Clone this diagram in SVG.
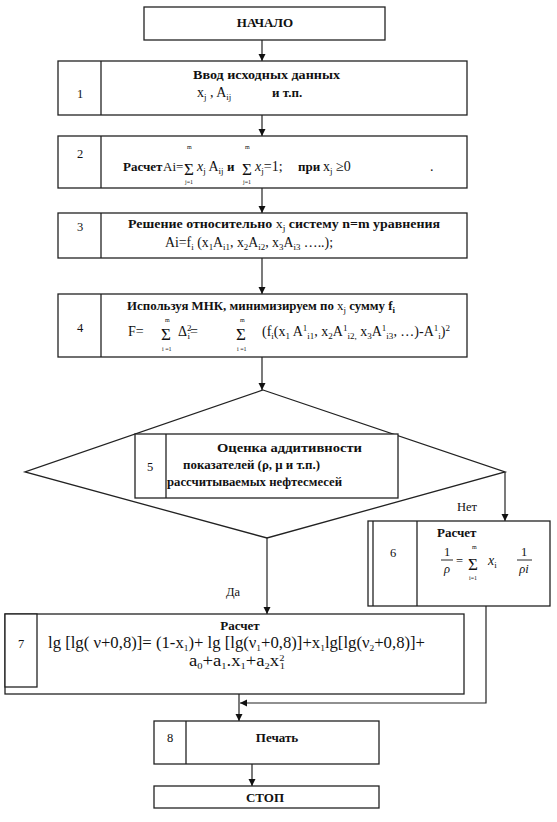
<svg xmlns="http://www.w3.org/2000/svg" width="557" height="822" viewBox="0 0 557 822" font-family="'Liberation Serif', 'DejaVu Serif', serif">
<defs>
<marker id="ah" markerWidth="8" markerHeight="8" refX="7" refY="3.5" orient="auto" markerUnits="userSpaceOnUse">
<path d="M0,0 L7,3.5 L0,7 z" fill="#111"/>
</marker>
<style>
.box{fill:#fff;stroke:#222;stroke-width:1.3}
.ln{fill:none;stroke:#222;stroke-width:1.3}
.c{fill:none;stroke:#222;stroke-width:1.2;marker-end:url(#ah)}
text{font-family:'Liberation Serif','DejaVu Serif',serif;fill:#111}
.b{font-weight:bold;font-size:13px}
.r{font-size:14px}
.n{font-size:12.5px}
.sb{font-size:9px;baseline-shift:-3px}
.sp{font-size:9px;baseline-shift:5px}
.sg{font-size:17px}
.lim{font-size:6px}
.mid{text-anchor:middle}
.it{font-style:italic}
</style>
</defs>
<rect width="557" height="822" fill="#fff"/>

<g id="connectors">
<line class="c" x1="262" y1="40" x2="262" y2="61"/>
<line class="c" x1="262" y1="115" x2="262" y2="136"/>
<line class="c" x1="262" y1="188" x2="262" y2="213"/>
<line class="c" x1="262" y1="258" x2="262" y2="294"/>
<line class="c" x1="262" y1="357" x2="262" y2="390"/>
<polyline class="c" points="505,472 505,521"/>
<line class="c" x1="267" y1="538" x2="267" y2="614"/>
<polyline class="c" points="486,606 486,703 240,703"/>
<line class="c" x1="239" y1="694" x2="239" y2="721"/>
<line class="c" x1="252" y1="764" x2="252" y2="786"/>
<text x="467" y="511" class="n mid">Нет</text>
<text x="233" y="596" class="n mid">Да</text>
</g>

<g id="start">
<rect class="box" x="144" y="7" width="241" height="33"/>
<text x="265" y="27" class="b mid">НАЧАЛО</text>
</g>

<g id="node1">
<rect class="box" x="58" y="61" width="409" height="54"/>
<line class="ln" x1="101" y1="61" x2="101" y2="115"/>
<text x="80" y="98" class="n mid">1</text>
<text x="193" y="79" class="b" textLength="147" lengthAdjust="spacingAndGlyphs">Ввод исходных данных</text>
<text x="197" y="97" class="r">x<tspan class="sb">j</tspan> , A<tspan class="sb">ij</tspan></text>
<text x="272" y="97" class="b">и  т.п.</text>
</g>

<g id="node2">
<rect class="box" x="58" y="136" width="409" height="52"/>
<line class="ln" x1="101" y1="136" x2="101" y2="188"/>
<text x="80" y="158" class="n mid">2</text>
<text x="123" y="171" class="b" font-size="12.5px">Расчет</text>
<text x="163" y="171" font-size="13px">Ai=</text>
<text x="184" y="175" class="sg">Σ</text>
<text x="187" y="149" class="lim">m</text>
<text x="185" y="184" class="lim">j=1</text>
<text x="197" y="171" class="r"><tspan class="it">x</tspan><tspan class="sb">j</tspan> A<tspan class="sb">ij</tspan></text>
<text x="227" y="171" class="b">и</text>
<text x="242" y="175" class="sg">Σ</text>
<text x="245" y="149" class="lim">m</text>
<text x="243" y="184" class="lim">j=1</text>
<text x="255" y="171" class="r"><tspan class="it">x</tspan><tspan class="sb">j</tspan>=1;</text>
<text x="298" y="171" class="b">при</text>
<text x="323" y="171" class="r">x<tspan class="sb">j</tspan> ≥0</text>
<text x="430" y="171" class="r">.</text>
</g>

<g id="node3">
<rect class="box" x="58" y="213" width="409" height="45"/>
<line class="ln" x1="101" y1="213" x2="101" y2="258"/>
<text x="80" y="231" class="n mid">3</text>
<text x="128" y="228" class="b" textLength="312" lengthAdjust="spacingAndGlyphs">Решение относительно <tspan font-weight="normal">x<tspan class="sb">j</tspan></tspan>  систему  n=m  уравнения</text>
<text x="165" y="247" class="r" textLength="168" lengthAdjust="spacingAndGlyphs">Ai=f<tspan class="sb">i</tspan>  (x<tspan class="sb">1</tspan>A<tspan class="sb">i1</tspan>, x<tspan class="sb">2</tspan>A<tspan class="sb">i2</tspan>, x<tspan class="sb">3</tspan>A<tspan class="sb">i3</tspan> …..);</text>
</g>

<g id="node4">
<rect class="box" x="58" y="294" width="409" height="63"/>
<line class="ln" x1="101" y1="294" x2="101" y2="357"/>
<text x="80" y="332" class="n mid">4</text>
<text x="127" y="310" class="b" font-size="12.5px" textLength="268" lengthAdjust="spacingAndGlyphs">Используя  МНК, минимизируем по <tspan font-weight="normal">x<tspan class="sb">j</tspan></tspan> сумму f<tspan class="sb">i</tspan></text>
<text x="128" y="336" class="r">F=</text>
<text x="161" y="340" class="sg">Σ</text>
<text x="165" y="322" class="lim">m</text>
<text x="162" y="351" class="lim">i =1</text>
<text x="178" y="336" class="r">Δ<tspan class="sp">2</tspan><tspan font-size="9px" baseline-shift="-3px" dx="-4">i</tspan>=</text>
<text x="236" y="340" class="sg">Σ</text>
<text x="240" y="322" class="lim">m</text>
<text x="237" y="351" class="lim">i =1</text>
<text x="262" y="336" class="r" textLength="188" lengthAdjust="spacingAndGlyphs">(f<tspan class="sb">i</tspan>(x<tspan class="sb">1</tspan> A<tspan class="sp">1</tspan><tspan class="sb">i1</tspan>, x<tspan class="sb">2</tspan>A<tspan class="sp">1</tspan><tspan class="sb">i2,</tspan> x<tspan class="sb">3</tspan>A<tspan class="sp">1</tspan><tspan class="sb">i3</tspan>, …)-A<tspan class="sp">1</tspan><tspan class="sb">i</tspan>)<tspan class="sp">2</tspan></text>
</g>

<g id="node5">
<polygon class="ln" points="263,390 505,472 267,538 25,472"/>
<rect class="box" x="135" y="434" width="263" height="64"/>
<line class="ln" x1="166" y1="434" x2="166" y2="498"/>
<text x="150" y="471" class="n mid">5</text>
<text x="217" y="452" class="b" textLength="145" lengthAdjust="spacingAndGlyphs">Оценка аддитивности</text>
<text x="183" y="469" class="b" textLength="137" lengthAdjust="spacingAndGlyphs">показателей (ρ, μ и т.п.)</text>
<text x="167" y="486" class="b" textLength="175" lengthAdjust="spacingAndGlyphs">рассчитываемых нефтесмесей</text>
</g>

<g id="node6">
<rect class="box" x="368" y="521" width="182" height="85"/>
<line class="ln" x1="373" y1="521" x2="373" y2="606"/>
<line class="ln" x1="417" y1="521" x2="417" y2="606"/>
<text x="393" y="557" class="n mid">6</text>
<text x="437" y="537" class="b">Расчет</text>
<text x="447" y="556" class="n mid">1</text>
<line x1="441" y1="560" x2="453" y2="560" stroke="#111" stroke-width="0.9"/>
<text x="447" y="573" class="n mid it">ρ</text>
<text x="456" y="565" class="n">=</text>
<text x="468" y="570" class="sg">Σ</text>
<text x="472" y="549" class="lim">m</text>
<text x="469" y="580" class="lim">i=1</text>
<text x="488" y="565" class="r it">x<tspan class="sb" font-style="normal">i</tspan></text>
<text x="524" y="556" class="n mid">1</text>
<line x1="517" y1="560" x2="532" y2="560" stroke="#111" stroke-width="0.9"/>
<text x="524" y="573" class="n mid it">ρi</text>
</g>

<g id="node7">
<rect class="box" x="5" y="614" width="459" height="80"/>
<rect class="box" x="5" y="614" width="32" height="73"/>
<text x="21" y="648" class="n mid">7</text>
<text x="240" y="630" class="b mid">Расчет</text>
<text x="48" y="648" font-size="16px" textLength="377" lengthAdjust="spacingAndGlyphs">lg [lg( ν+0,8)]= (1-x<tspan class="sb">1</tspan>)+ lg [lg(ν<tspan class="sb">1</tspan>+0,8)]+x<tspan class="sb">1</tspan>lg[lg(ν<tspan class="sb">2</tspan>+0,8)]+</text>
<text x="189" y="666" font-size="16px" textLength="96" lengthAdjust="spacingAndGlyphs">a<tspan class="sb">0</tspan>+a<tspan class="sb">1</tspan>.x<tspan class="sb">1</tspan>+a<tspan class="sb">2</tspan>x<tspan class="sp">2</tspan><tspan font-size="9px" baseline-shift="-3px" dx="-4">1</tspan></text>
</g>

<g id="node8">
<rect class="box" x="154" y="721" width="225" height="43"/>
<line class="ln" x1="186" y1="721" x2="186" y2="764"/>
<text x="170" y="742" class="n mid">8</text>
<text x="277" y="742" class="b mid">Печать</text>
</g>

<g id="stop">
<rect class="box" x="154" y="786" width="225" height="22"/>
<text x="265" y="802" class="b mid">СТОП</text>
</g>
</svg>
